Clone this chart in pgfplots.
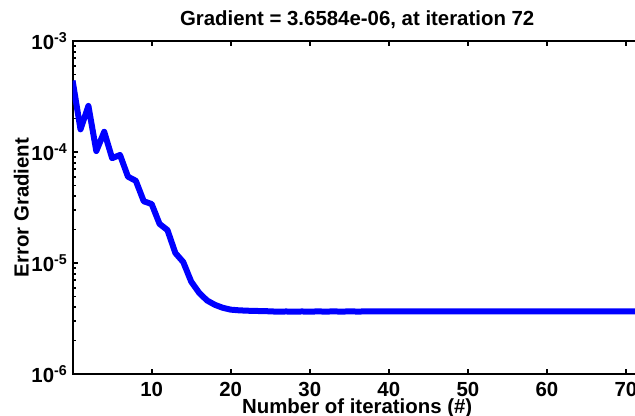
\documentclass[border=0pt]{standalone}
\usepackage{fontspec}
\setmainfont{Liberation Sans}
\usepackage{pgfplots}
\pgfplotsset{compat=1.18}
\begin{document}
\begin{tikzpicture}[font=\fontsize{10.2}{12}\selectfont\bfseries]
\begin{axis}[
  name=ax,
  at={(0,0)}, anchor=south west,
  scale only axis,
  width=284.6pt, height=166.5pt,
  ymode=log,
  xmin=0, xmax=72,
  ymin=1e-6, ymax=1e-3,
  xtick={10,20,30,40,50,60,70},
  ytick={1e-6,1e-5,1e-4,1e-3},
  yticklabels={10\textsuperscript{-6},10\textsuperscript{-5},10\textsuperscript{-4},10\textsuperscript{-3}},
  /pgf/number format/assume math mode=true,
  tick align=inside,
  major tick length=2.6pt,
  minor tick length=1.6pt,
  every tick/.style={black, line width=0.9pt},
  axis line style={line width=0.9pt},
  tick label style={font=\fontsize{10.2}{12}\selectfont\bfseries},
  xticklabel style={anchor=base, yshift=-11pt},
  yticklabel style={anchor=east, inner sep=0pt, xshift=-2.2pt},
  title={Gradient = 3.6584e-06, at iteration 72},
  title style={at={(axis description cs:0.5,1.048)}, anchor=base, yshift=-6pt, inner sep=0pt},
  xlabel={Number of iterations (\#)},
  xlabel style={at={(axis description cs:0.5,0)}, anchor=base, yshift=-19.75pt, inner sep=0pt},
  ylabel={Error Gradient},
  ylabel style={at={(axis description cs:-0.0773,0.5)}, anchor=base, inner sep=0pt},
]
\addplot[color=blue, line width=3pt, line join=round, mark=none] coordinates {
(0,4.4e-4) (1,1.6e-4) (2,2.6e-4) (3,1.02e-4) (4,1.52e-4) (5,8.8e-5) (6,9.4e-5)
(7,6.0e-5) (8,5.5e-5) (9,3.6e-5) (10,3.4e-5) (11,2.25e-5) (12,1.98e-5)
(13,1.23e-5) (14,1.02e-5) (15,6.8e-6) (16,5.4e-6) (17,4.6e-6) (18,4.2e-6)
(19,3.95e-6) (20,3.8e-6) (21,3.75e-6) (22,3.72e-6) (23,3.70e-6) (24,3.69e-6)
(25,3.67e-6) (26,3.64e-6) (27,3.66e-6) (28,3.64e-6) (29,3.66e-6) (30,3.645e-6)
(31,3.665e-6) (32,3.65e-6) (33,3.665e-6) (34,3.65e-6) (35,3.665e-6) (36,3.655e-6)
(37,3.66e-6) (38,3.659e-6) (40,3.659e-6) (45,3.659e-6) (50,3.6586e-6)
(55,3.6585e-6) (60,3.6585e-6) (65,3.6584e-6) (70,3.6584e-6) (72,3.6584e-6)
};
\end{axis}
\pgfresetboundingbox
\useasboundingbox ([shift={(-36.3pt,-21pt)}]ax.south west) rectangle ([shift={(281.2pt,187pt)}]ax.south west);
\end{tikzpicture}
\end{document}
